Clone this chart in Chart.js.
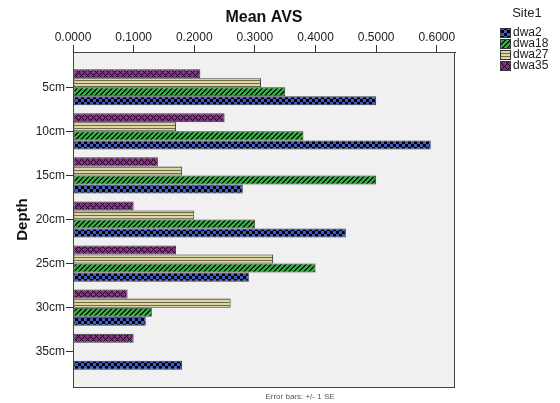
<!DOCTYPE html>
<html>
<head>
<meta charset="utf-8">
<script src="https://cdn.jsdelivr.net/npm/chart.js@4/dist/chart.umd.min.js"></script>
<style>
  html, body { margin: 0; padding: 0; background: #fff; }
  #wrap { width: 560px; height: 403px; }
</style>
</head>
<body>
<div id="wrap"><canvas id="chart"></canvas></div>
<script>
const categories = ['5cm', '10cm', '15cm', '20cm', '25cm', '30cm', '35cm'];
const xTicks = [0, 0.1, 0.2, 0.3, 0.4, 0.5, 0.6];
const dwa2 = [0.50, 0.59, 0.28, 0.45, 0.29, 0.12, 0.18];
const dwa18 = [0.35, 0.38, 0.50, 0.30, 0.40, 0.13, null];
const dwa27 = [0.31, 0.17, 0.18, 0.20, 0.33, 0.26, null];
const dwa35 = [0.21, 0.25, 0.14, 0.10, 0.17, 0.09, 0.10];

const FONT = "'Liberation Sans', Arial, sans-serif";

// little canvas patterns in the SPSS style
function makePattern(size, draw) {
  const c = document.createElement('canvas');
  c.width = c.height = size;
  const g = c.getContext('2d');
  draw(g, size);
  return g.createPattern(c, 'repeat');
}
const patBlue = makePattern(6, g => {
  g.fillStyle = '#000'; g.fillRect(0, 0, 6, 6);
  g.fillStyle = '#3f5fc0'; g.fillRect(0, 0, 3, 3); g.fillRect(3, 3, 3, 3);
});
const patGreen = makePattern(5, g => {
  g.fillStyle = '#2fb040'; g.fillRect(0, 0, 5, 5);
  g.fillStyle = '#0a200a';
  for (let i = 0; i < 5; i++) {
    g.fillRect(i, 4 - i, 1, 1);
    g.fillRect((i + 1) % 5, 4 - i, 1, 1);
  }
});
const patBeige = makePattern(3, g => {
  g.fillStyle = '#dcd6a4'; g.fillRect(0, 0, 3, 3);
  g.fillStyle = '#6e6a44'; g.fillRect(0, 2, 3, 1);
});
const patPurple = makePattern(6, g => {
  g.fillStyle = '#8a2d8c'; g.fillRect(0, 0, 6, 6);
  g.fillStyle = '#1a001a';
  for (let x = 0; x < 6; x++) {
    for (let y = 0; y < 6; y++) {
      if ((x + y) % 6 === 0 || (x - y + 6) % 6 === 0) g.fillRect(x, y, 1, 1);
    }
  }
});

const toPoints = arr => arr.map((v, i) => ({ x: v, y: i + 1 }));

// top-to-bottom order in each group: dwa35, dwa27, dwa18, dwa2
const series = [
  { label: 'dwa35', data: dwa35, fill: patPurple },
  { label: 'dwa27', data: dwa27, fill: patBeige },
  { label: 'dwa18', data: dwa18, fill: patGreen },
  { label: 'dwa2', data: dwa2, fill: patBlue }
];

const plotFrame = {
  id: 'plotFrame',
  beforeDatasetsDraw(chart) {
    const { ctx, chartArea: a } = chart;
    ctx.save();
    ctx.fillStyle = '#f0f0f0';
    ctx.fillRect(a.left, a.top, a.right - a.left, a.bottom - a.top);
    ctx.restore();
  },
  afterDraw(chart) {
    const { ctx, chartArea: a } = chart;
    ctx.save();
    ctx.strokeStyle = '#444';
    ctx.lineWidth = 1;
    ctx.strokeRect(a.left + 0.5, a.top + 0.5, a.right - a.left - 1, a.bottom - a.top);

    // legend, listed in reverse of the drawing order
    ctx.fillStyle = '#222';
    ctx.font = '13px ' + FONT;
    ctx.textAlign = 'center';
    ctx.textBaseline = 'middle';
    ctx.fillText('Site1', 527, 13);
    ctx.font = '12px ' + FONT;
    ctx.textAlign = 'left';
    series.slice().reverse().forEach((s, i) => {
      const y = 33 + i * 11;
      ctx.fillStyle = s.fill;
      ctx.fillRect(500, y - 5, 11, 10);
      ctx.strokeStyle = '#333';
      ctx.strokeRect(500.5, y - 4.5, 10, 9);
      ctx.fillStyle = '#222';
      ctx.fillText(s.label, 513, y);
    });

    ctx.fillStyle = '#555';
    ctx.font = '8px ' + FONT;
    ctx.textAlign = 'center';
    ctx.fillText('Error bars: +/- 1 SE', 300, 397);
    ctx.restore();
  }
};

new Chart(document.getElementById('chart'), {
  type: 'bar',
  data: {
    datasets: series.map(s => ({
      label: s.label,
      data: toPoints(s.data),
      backgroundColor: s.fill,
      borderColor: '#3a3a3a',
      borderWidth: 1,
      borderSkipped: false,
      categoryPercentage: 0.82,
      barPercentage: 1.0
    }))
  },
  options: {
    indexAxis: 'y',
    responsive: true,
    maintainAspectRatio: false,
    animation: false,
    layout: { padding: { left: 10, right: 105, top: 4, bottom: 16 } },
    plugins: {
      legend: { display: false },
      tooltip: { enabled: false }
    },
    scales: {
      x: {
        type: 'linear',
        position: 'top',
        min: 0,
        max: 0.63,
        afterBuildTicks: s => { s.ticks = xTicks.map(v => ({ value: v })); },
        afterFit: s => { s.height = 48; },
        ticks: {
          color: '#222',
          font: { family: FONT, size: 12 },
          padding: 0,
          callback: v => v.toFixed(4)
        },
        grid: { drawOnChartArea: false, drawTicks: true, tickLength: 7, color: '#333' },
        border: { color: '#222' },
        title: {
          display: true,
          text: 'Mean AVS',
          color: '#111',
          font: { family: FONT, size: 16, weight: 'bold' },
          padding: { top: 4, bottom: 0 }
        }
      },
      y: {
        type: 'linear',
        reverse: true,
        offset: false,
        min: 0.2,
        max: 7.8,
        afterBuildTicks: s => { s.ticks = categories.map((c, i) => ({ value: i + 1 })); },
        afterFit: s => { s.width = 63; },
        ticks: {
          color: '#222',
          font: { family: FONT, size: 12 },
          padding: 1,
          callback: v => categories[v - 1]
        },
        grid: { offset: false, drawOnChartArea: false, drawTicks: true, tickLength: 7, color: '#333' },
        border: { color: '#222' },
        title: {
          display: true,
          text: 'Depth',
          color: '#111',
          font: { family: FONT, size: 15, weight: 'bold' },
          padding: { top: 4, bottom: 0 }
        }
      }
    }
  },
  plugins: [plotFrame]
});
</script>
</body>
</html>
